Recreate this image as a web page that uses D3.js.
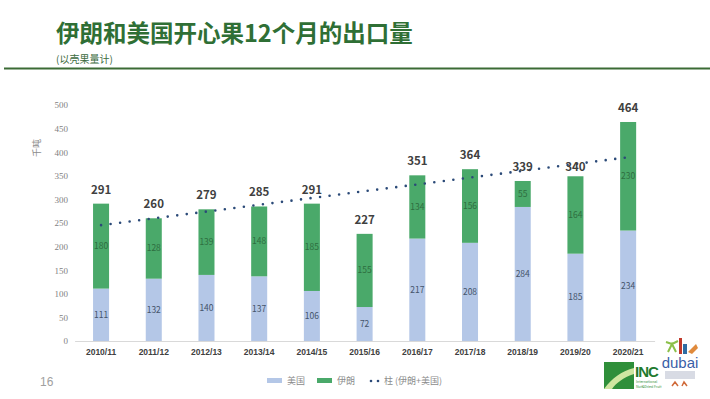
<!DOCTYPE html>
<html>
<head>
<meta charset="utf-8">
<script src="https://cdn.jsdelivr.net/npm/d3@7"></script>
<style>
  body { margin: 0; background: #fff; }
  svg { display: block; font-family: "Noto Sans CJK SC", "Noto Sans", sans-serif; }
</style>
</head>
<body>
<div class="vis"></div>
<script>
// Data
const years = ["2010/11", "2011/12", "2012/13", "2013/14", "2014/15", "2015/16",
               "2016/17", "2017/18", "2018/19", "2019/20", "2020/21"];
const usa  = [111, 132, 140, 137, 106, 72, 217, 208, 284, 185, 234];
const iran = [180, 128, 139, 148, 185, 155, 134, 156, 55, 164, 230];
const totals = [291, 260, 279, 285, 291, 227, 351, 364, 339, 340, 464];
const yTicks = [0, 50, 100, 150, 200, 250, 300, 350, 400, 450, 500];

const W = 710, H = 399;
const blue = "#b4c7e7", green = "#4aa96a";

const svg = d3.select('.vis').append('svg')
    .attr('width', W)
    .attr('height', H);

// Title
svg.append("text")
    .attr("x", 56).attr("y", 42)
    .style("font-size", "23.5px")
    .style("font-weight", "700")
    .attr("fill", "#2f6f35")
    .text("伊朗和美国开心果12个月的出口量");
svg.append("text")
    .attr("x", 56).attr("y", 63)
    .style("font-size", "10px")
    .attr("fill", "#3b6b3e")
    .text("(以壳果量计)");
svg.append("line")
    .attr("x1", 4).attr("x2", W)
    .attr("y1", 68.5).attr("y2", 68.5)
    .attr("stroke", "#3b6b35")
    .attr("stroke-width", 2);

// Scales
const x = d3.scaleBand()
    .domain(years)
    .range([74.6, 654.6])
    .paddingInner(0.696)
    .paddingOuter(0.35);
const y = d3.scaleLinear()
    .domain([0, 500])
    .range([341, 105]);

// Y axis
const yAxis = svg.append("g")
    .attr("transform", "translate(70,0)")
    .call(d3.axisLeft(y).tickValues(yTicks).tickSize(0).tickPadding(2));
yAxis.select(".domain").remove();
yAxis.selectAll("text")
    .attr("fill", "#7f7f7f")
    .style("font-family", "Liberation Serif, serif")
    .style("font-size", "9px");

svg.append("text")
    .attr("transform", "translate(40,148) rotate(-90)")
    .attr("text-anchor", "middle")
    .style("font-size", "9px")
    .attr("fill", "#8c8c8c")
    .text("千吨");

// Stacked bars
const stackData = years.map((yr, i) => ({ year: yr, usa: usa[i], iran: iran[i] }));
const series = d3.stack().keys(["usa", "iran"])(stackData);
const colors = { usa: blue, iran: green };

svg.append("g").selectAll("g")
    .data(series)
    .enter().append("g")
    .attr("fill", d => colors[d.key])
    .selectAll("rect")
    .data(d => d)
    .enter().append("rect")
    .attr("x", d => x(d.data.year))
    .attr("width", x.bandwidth())
    .attr("y", d => y(d[1]))
    .attr("height", d => y(d[0]) - y(d[1]));

// X axis
const xAxis = svg.append("g")
    .attr("transform", "translate(0,341)")
    .call(d3.axisBottom(x).tickSize(0).tickPadding(8));
xAxis.select(".domain").attr("stroke", "#d9d9d9");
xAxis.selectAll("text")
    .attr("fill", "#404040")
    .style("font-size", "8.5px")
    .style("font-weight", "700");

// Segment labels
const labelColors = { usa: "#44546a", iran: "#2e6e40" };
series.forEach(s => {
    svg.append("g").selectAll("text")
        .data(s)
        .enter().append("text")
        .attr("x", d => x(d.data.year) + x.bandwidth() / 2)
        .attr("y", d => (y(d[0]) + y(d[1])) / 2 + 3)
        .attr("text-anchor", "middle")
        .style("font-size", "8.5px")
        .attr("fill", labelColors[s.key])
        .text(d => d.data[s.key]);
});

// Trend line (linear fit of totals)
const n = totals.length;
const mx = d3.mean(d3.range(n)), my = d3.mean(totals);
const slope = d3.sum(totals, (t, i) => (i - mx) * (t - my)) / d3.sum(d3.range(n), i => (i - mx) ** 2);
const trend = years.map((yr, i) => [x(yr) + x.bandwidth() / 2, y(my + slope * (i - mx))]);
svg.append("path")
    .attr("d", d3.line()(trend))
    .attr("fill", "none")
    .attr("stroke", "#2b4a78")
    .attr("stroke-width", 2.6)
    .attr("stroke-linecap", "round")
    .attr("stroke-dasharray", "0 9.6");

// Totals
svg.append("g").selectAll("text")
    .data(totals)
    .enter().append("text")
    .attr("x", (d, i) => x(years[i]) + x.bandwidth() / 2)
    .attr("y", d => y(d) - 10)
    .attr("text-anchor", "middle")
    .style("font-size", "11.5px")
    .style("font-weight", "700")
    .attr("fill", "#404040")
    .text(d => d);

// Legend
const lg = svg.append("g").attr("transform", "translate(0,381)");
lg.append("rect").attr("x", 267).attr("y", -3).attr("width", 15).attr("height", 5).attr("fill", blue);
lg.append("text").attr("x", 287).attr("y", 3).style("font-size", "9px").attr("fill", "#8c8c8c").text("美国");
lg.append("rect").attr("x", 317).attr("y", -3).attr("width", 15).attr("height", 5).attr("fill", green);
lg.append("text").attr("x", 337).attr("y", 3).style("font-size", "9px").attr("fill", "#8c8c8c").text("伊朗");
lg.append("circle").attr("cx", 371).attr("cy", 0).attr("r", 1.3).attr("fill", "#2b4a78");
lg.append("circle").attr("cx", 378).attr("cy", 0).attr("r", 1.3).attr("fill", "#2b4a78");
lg.append("text").attr("x", 384).attr("y", 3).style("font-size", "9px").attr("fill", "#8c8c8c").text("柱 (伊朗+美国)");

// Page number
svg.append("text")
    .attr("x", 40).attr("y", 386)
    .style("font-size", "12px")
    .attr("fill", "#a0a0a0")
    .style("font-family", "Liberation Sans, sans-serif")
    .text("16");

// INC logo (approximation)
const logo = svg.append("g");
logo.append("rect").attr("x", 604).attr("y", 362).attr("width", 30).attr("height", 27).attr("fill", "#2f8f3a");
logo.append("path").attr("d", "M604,389 C612,378 622,371 634,368 L634,374 C624,377 616,383 612,389 Z").attr("fill", "#cfe6a0");
logo.append("text").attr("x", 635).attr("y", 377).style("font-size", "15px").style("font-weight", "700")
    .style("font-family", "Liberation Sans, sans-serif").attr("fill", "#1f7a2e").attr("letter-spacing", "-1").text("INC");
logo.append("text").attr("x", 636).attr("y", 383).style("font-size", "3.5px").attr("fill", "#2f8f3a").text("International");
logo.append("text").attr("x", 636).attr("y", 388).style("font-size", "3.5px").attr("fill", "#2f8f3a").text("Nut&Dried Fruit");

// dubai logo (approximation)
logo.append("path").attr("d", "M668,352 l4,-8 l4,8 M672,344 l-6,-2 M672,344 l6,-3").attr("stroke", "#8cc04a").attr("fill", "none").attr("stroke-width", 2);
logo.append("rect").attr("x", 679).attr("y", 338).attr("width", 3).attr("height", 16).attr("fill", "#c0392b");
logo.append("rect").attr("x", 683).attr("y", 344).attr("width", 4).attr("height", 10).attr("fill", "#2e6da4");
logo.append("path").attr("d", "M688,352 l8,-8 l2,4 l-6,6 Z").attr("fill", "#e08a3c");
logo.append("text").attr("x", 680).attr("y", 368).attr("text-anchor", "middle")
    .style("font-size", "15px").style("font-family", "Liberation Sans, sans-serif").attr("fill", "#3a5fa8").text("dubai");
logo.append("rect").attr("x", 665).attr("y", 371).attr("width", 30).attr("height", 8).attr("fill", "#d8dbe4");
logo.append("path").attr("d", "M672,386 l3,-4 l3,4 M682,386 l2,-4 l3,4").attr("stroke", "#d06a3a").attr("fill", "none").attr("stroke-width", 1.5);
</script>
</body>
</html>
